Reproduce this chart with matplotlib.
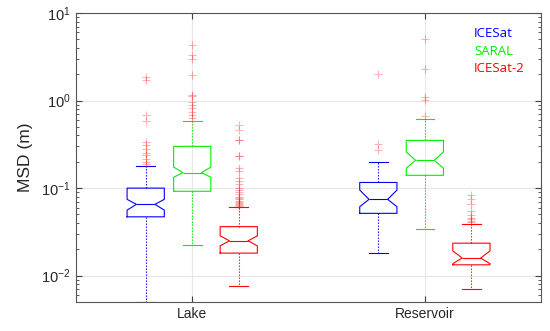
import matplotlib
matplotlib.use("Agg")
import matplotlib.pyplot as plt
from matplotlib.ticker import LogLocator, NullFormatter

plt.rcParams['font.family'] = ['Liberation Sans', 'DejaVu Sans']

groups = ["Lake", "Reservoir"]
series = ["ICESat", "SARAL", "ICESat-2"]
colors = ["#0000ff", "#00f000", "#ff0000"]

# per series: [Lake, Reservoir]
q1 = {"ICESat": [0.047, 0.0515], "SARAL": [0.092, 0.14], "ICESat-2": [0.0181, 0.0133]}
med = {"ICESat": [0.0653, 0.0744], "SARAL": [0.150, 0.208], "ICESat-2": [0.025, 0.0159]}
q3 = {"ICESat": [0.100, 0.116], "SARAL": [0.300, 0.351], "ICESat-2": [0.0363, 0.0235]}
cilo = {"ICESat": [0.056, 0.0613], "SARAL": [0.133, 0.169], "ICESat-2": [0.0219, 0.0137]}
cihi = {"ICESat": [0.0744, 0.095], "SARAL": [0.174, 0.259], "ICESat-2": [0.0285, 0.0192]}
whislo = {"ICESat": [0.005, 0.0181], "SARAL": [0.0224, 0.034], "ICESat-2": [0.0076, 0.0071]}
whishi = {"ICESat": [0.178, 0.20], "SARAL": [0.58, 0.61], "ICESat-2": [0.0613, 0.0386]}
fliers = {
    "ICESat": [
        [1.87, 1.74, 0.69, 0.58, 0.34, 0.31, 0.277, 0.25, 0.236, 0.216, 0.20, 0.19],
        [2.0, 0.32, 0.27],
    ],
    "SARAL": [
        [4.3, 3.3, 3.0, 1.96, 1.16, 1.12, 0.97, 0.89, 0.82, 0.75, 0.69, 0.63],
        [5.1, 2.27, 1.1, 1.02, 0.66],
    ],
    "ICESat-2": [
        [0.53, 0.46, 0.35, 0.35, 0.23, 0.23, 0.17, 0.155, 0.13, 0.12, 0.11, 0.10,
         0.095, 0.09, 0.085, 0.08, 0.077, 0.075, 0.072, 0.07, 0.068, 0.066, 0.064, 0.063],
        [0.083, 0.075, 0.065, 0.055, 0.049, 0.046, 0.044, 0.042, 0.041],
    ],
}

offsets = [-0.2, 0.0, 0.2]
box_w = 0.16

fig = plt.figure(figsize=(5.5, 3.31), dpi=100)
ax = fig.add_axes([0.138, 0.0876, 0.846, 0.873])

for si, s in enumerate(series):
    c = colors[si]
    stats = []
    pos = []
    for gi in range(len(groups)):
        stats.append(dict(med=med[s][gi], q1=q1[s][gi], q3=q3[s][gi],
                          whislo=whislo[s][gi], whishi=whishi[s][gi],
                          cilo=cilo[s][gi], cihi=cihi[s][gi],
                          fliers=fliers[s][gi]))
        pos.append(gi + 1 + offsets[si])
    ax.bxp(stats, positions=pos, widths=box_w, shownotches=True,
           boxprops=dict(color=c, linewidth=0.8),
           medianprops=dict(color=c, linewidth=0.8),
           whiskerprops=dict(color=c, linewidth=0.8, linestyle=(0, (1.2, 1.5))),
           capprops=dict(color=c, linewidth=0.8),
           flierprops=dict(marker='+', markeredgecolor='red', markersize=6,
                           markeredgewidth=0.8, alpha=0.3, linestyle='none'),
           manage_ticks=False)

ax.set_yscale('log')
ax.set_ylim(0.005, 10)
ax.set_xlim(0.5, 2.5)
ax.set_xticks([1, 2])
ax.set_xticklabels(groups, fontsize=10)
ax.yaxis.set_major_locator(LogLocator(base=10, numticks=10))
ax.yaxis.set_minor_locator(LogLocator(base=10, subs=range(2, 10), numticks=10))
ax.yaxis.set_minor_formatter(NullFormatter())
ax.tick_params(axis='both', which='both', direction='in', top=True, right=True,
               colors='#404040', labelcolor='#262626')
ax.tick_params(axis='y', labelsize=10.5)
ax.tick_params(which='major', length=4)
ax.tick_params(which='minor', length=2.5)
ax.grid(True, which='major', color='#e6e6e6', linewidth=0.8)
ax.set_axisbelow(True)
for sp in ax.spines.values():
    sp.set_color('#555555')
    sp.set_linewidth(0.8)
ax.set_ylabel("MSD (m)", fontsize=12.5, color='#262626', labelpad=6)

leg_y = [0.93, 0.868, 0.808]
for si, s in enumerate(series):
    ax.text(0.856, leg_y[si], s, color=colors[si], transform=ax.transAxes,
            ha='left', va='center', fontsize=9.5, family=['Open Sans', 'DejaVu Sans'])

fig.savefig("out.png", dpi=100)
